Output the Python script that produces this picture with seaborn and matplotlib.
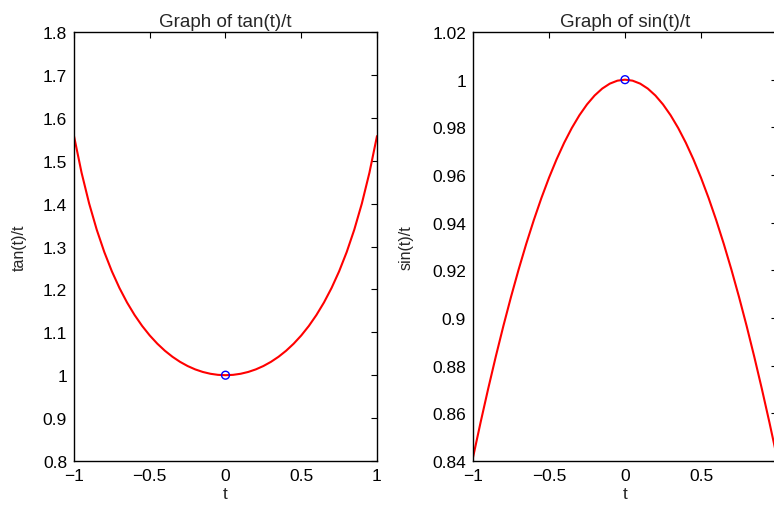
import matplotlib
matplotlib.use("Agg")
import matplotlib.pyplot as plt
import seaborn as sns
import pandas as pd

# values (symmetric about t = 0)
t_vals = [-1.00, -0.95, -0.90, -0.85, -0.80, -0.75, -0.70, -0.65, -0.60, -0.55,
          -0.50, -0.45, -0.40, -0.35, -0.30, -0.25, -0.20, -0.15, -0.10, -0.05,
          0.00, 0.05, 0.10, 0.15, 0.20, 0.25, 0.30, 0.35, 0.40, 0.45,
          0.50, 0.55, 0.60, 0.65, 0.70, 0.75, 0.80, 0.85, 0.90, 0.95, 1.00]
tan_half = [1.55741, 1.47198, 1.40018, 1.33921, 1.28705, 1.24213, 1.20327, 1.16954,
            1.14023, 1.11474, 1.09260, 1.07345, 1.05698, 1.04294, 1.03112, 1.02137,
            1.01355, 1.00757, 1.00335, 1.00083]
sin_half = [0.84147, 0.85623, 0.87036, 0.88386, 0.89670, 0.90885, 0.92031, 0.93106,
            0.94107, 0.95034, 0.95885, 0.96659, 0.97355, 0.97971, 0.98507, 0.98962,
            0.99335, 0.99625, 0.99833, 0.99958]
tan_vals = tan_half + [1.0] + tan_half[::-1]
sin_vals = sin_half + [1.0] + sin_half[::-1]
mark_t = [0.0]
mark_y = [1.0]

tan_ticks = [0.8, 0.9, 1.0, 1.1, 1.2, 1.3, 1.4, 1.5, 1.6, 1.7, 1.8]
tan_labels = ["0.8", "0.9", "1", "1.1", "1.2", "1.3", "1.4", "1.5", "1.6", "1.7", "1.8"]
sin_ticks = [0.84, 0.86, 0.88, 0.90, 0.92, 0.94, 0.96, 0.98, 1.00, 1.02]
sin_labels = ["0.84", "0.86", "0.88", "0.9", "0.92", "0.94", "0.96", "0.98", "1", "1.02"]
x_ticks = [-1, -0.5, 0, 0.5, 1]
x_labels = ["\u22121", "\u22120.5", "0", "0.5", "1"]

sns.set_style("white")
plt.rcParams["font.family"] = ["Liberation Sans", "DejaVu Sans"]
plt.rcParams["font.size"] = 12

df = pd.DataFrame({"t": t_vals, "tan": tan_vals, "sin": sin_vals})
mk = pd.DataFrame({"t": mark_t, "y": mark_y})

fig = plt.figure(figsize=(7.74, 5.06), dpi=100)
W, H = 774.0, 506.0
ax1 = fig.add_axes([74 / W, (H - 462) / H, 303 / W, 429 / H])
ax2 = fig.add_axes([473 / W, (H - 462) / H, 304 / W, 429 / H])

specs = [
    (ax1, "tan", "tan(t)/t", "Graph of tan(t)/t", (0.8, 1.8), tan_ticks, tan_labels, -0.155),
    (ax2, "sin", "sin(t)/t", "Graph of sin(t)/t", (0.84, 1.02), sin_ticks, sin_labels, -0.195),
]
for ax, col, ylab, title, ylim, yt, ytl, ylx in specs:
    sns.lineplot(data=df, x="t", y=col, ax=ax, color="#ff0000", linewidth=1.5, sort=False)
    sns.scatterplot(data=mk, x="t", y="y", ax=ax, marker="o", s=32,
                    facecolor="none", edgecolor="#0000ff", linewidth=1.0, zorder=5)
    ax.set_xlim(-1, 1)
    ax.set_ylim(*ylim)
    ax.set_xticks(x_ticks)
    ax.set_xticklabels(x_labels)
    ax.set_yticks(yt)
    ax.set_yticklabels(ytl)
    ax.set_xlabel("t", fontsize=12.5, labelpad=2.5)
    ax.set_ylabel(ylab, fontsize=11.5)
    ax.yaxis.set_label_coords(ylx, 0.5)
    ax.set_title(title, fontsize=13.5, pad=4)
    ax.tick_params(direction="in", length=4, width=0.8, top=True, right=True,
                   labelsize=12.5, pad=5, colors="black")
    for s in ax.spines.values():
        s.set_visible(True)
        s.set_color("black")
        s.set_linewidth(1.0)
    ax.grid(False)

fig.savefig("out.png", dpi=100)
